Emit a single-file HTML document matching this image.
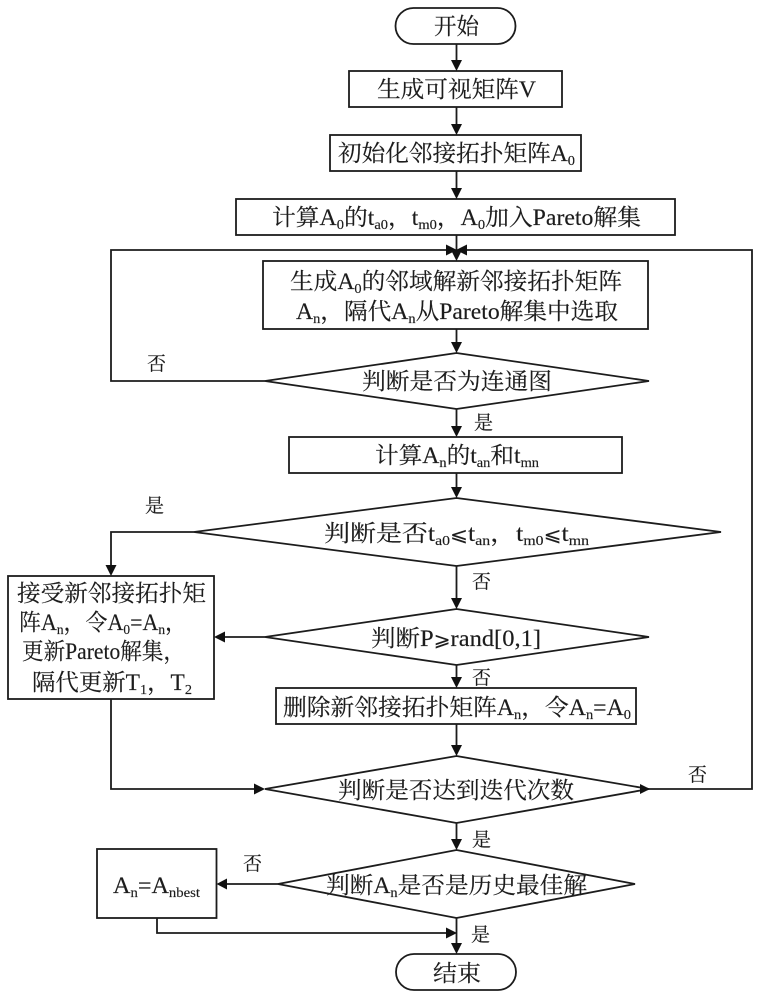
<!DOCTYPE html>
<html><head><meta charset="utf-8"><style>
html,body{margin:0;padding:0;background:#fff}
svg{display:block}
text{font-family:"Liberation Serif","Noto Serif CJK SC",serif;font-size:23px;fill:#1c1c1c;stroke:#1c1c1c;stroke-width:.15}
text.l{font-size:19px}
tspan.s{font-size:14px}
tspan.m{font-family:"DejaVu Sans",serif;font-size:19px}
.o{fill:none;stroke:#1c1c1c;stroke-width:1.8}
.a{fill:#111;stroke:none}
</style></head><body>
<svg width="760" height="1000" viewBox="0 0 760 1000" xmlns="http://www.w3.org/2000/svg">
<rect width="760" height="1000" fill="#fff"/>
<g class="o">
<rect x="395.500" y="8" width="120" height="36" rx="18"/>
<rect x="349" y="71" width="213" height="36"/>
<rect x="330" y="135" width="251" height="36"/>
<rect x="236" y="199" width="439" height="36"/>
<rect x="263" y="261" width="385" height="68"/>
<polygon points="456.500,353 649,381 456.500,409 265,381"/>
<rect x="289" y="437" width="333" height="36"/>
<polygon points="456.500,498 721,532 456.500,566 194,532"/>
<rect x="8" y="576" width="206" height="123"/>
<polygon points="456.500,609 649,637 456.500,665 265,637"/>
<rect x="276" y="688" width="360" height="36"/>
<polygon points="456.500,756 649,789 456.500,823 265,789"/>
<polygon points="456.500,850 635,884 456.500,918 278,884"/>
<rect x="97" y="849" width="119.500" height="69"/>
<rect x="396" y="954" width="120" height="36" rx="18"/>
<path d="M456.500 44V60M456.500 107V124M456.500 171V188M456.500 235V250M456.500 329V342M456.500 409V426M456.500 473V487M456.500 566V598M456.500 665V677M456.500 724V745M456.500 823V839M456.500 918V943"/>
<path d="M265 381H111V250H446M649 789H752V250H467"/>
<path d="M194 532H111V565"/>
<path d="M265 637H225"/>
<path d="M111 699V789H255"/>
<path d="M278 884H227"/>
<path d="M157 918V933H446"/>
</g>
<g class="a">
<polygon points="451,60 462,60 456.500,71"/>
<polygon points="451,124 462,124 456.500,135"/>
<polygon points="451,188 462,188 456.500,199"/>
<polygon points="451,250 462,250 456.500,261"/>
<polygon points="451,342 462,342 456.500,353"/>
<polygon points="451,426 462,426 456.500,437"/>
<polygon points="451,487 462,487 456.500,498"/>
<polygon points="451,598 462,598 456.500,609"/>
<polygon points="451,677 462,677 456.500,688"/>
<polygon points="451,745 462,745 456.500,756"/>
<polygon points="451,839 462,839 456.500,850"/>
<polygon points="451,943 462,943 456.500,954"/>
<polygon points="105.500,565 116.500,565 111,576"/>
<polygon points="446,244.500 446,255.500 457,250"/>
<polygon points="467,244.500 467,255.500 456,250"/>
<polygon points="225,631.500 225,642.500 214,637"/>
<polygon points="254,783.500 254,794.500 265,789"/>
<polygon points="227,878.500 227,889.500 216.500,884"/>
<polygon points="446,927.500 446,938.500 457,933"/>
<polygon points="640,784 640,794 650,789"/>
</g>
<text x="434" y="34" textLength="45" lengthAdjust="spacingAndGlyphs">开始</text>
<text x="377" y="97" textLength="159" lengthAdjust="spacingAndGlyphs">生成可视矩阵V</text>
<text x="338" y="161" textLength="237" lengthAdjust="spacingAndGlyphs">初始化邻接拓扑矩阵A<tspan class="s" dy="4">0</tspan></text>
<text x="272" y="225" textLength="369" lengthAdjust="spacingAndGlyphs">计算A<tspan class="s" dy="4">0</tspan><tspan dy="-4">的t</tspan><tspan class="s" dy="4">a0</tspan><tspan dy="-4">，t</tspan><tspan class="s" dy="4">m0</tspan><tspan dy="-4">，A</tspan><tspan class="s" dy="4">0</tspan><tspan dy="-4">加入Pareto解集</tspan></text>
<text x="290" y="289" textLength="332" lengthAdjust="spacingAndGlyphs">生成A<tspan class="s" dy="4">0</tspan><tspan dy="-4">的邻域解新邻接拓扑矩阵</tspan></text>
<text x="296" y="319" textLength="322" lengthAdjust="spacingAndGlyphs">A<tspan class="s" dy="4">n</tspan><tspan dy="-4">，隔代A</tspan><tspan class="s" dy="4">n</tspan><tspan dy="-4">从Pareto解集中选取</tspan></text>
<text x="362" y="389" textLength="190" lengthAdjust="spacingAndGlyphs">判断是否为连通图</text>
<text x="375" y="463" textLength="164" lengthAdjust="spacingAndGlyphs">计算A<tspan class="s" dy="4">n</tspan><tspan dy="-4">的t</tspan><tspan class="s" dy="4">an</tspan><tspan dy="-4">和t</tspan><tspan class="s" dy="4">mn</tspan></text>
<text x="324" y="541" textLength="265" lengthAdjust="spacingAndGlyphs">判断是否t<tspan class="s" dy="4">a0</tspan><tspan class="m" dy="-4">⩽</tspan><tspan>t</tspan><tspan class="s" dy="4">an</tspan><tspan dy="-4">，t</tspan><tspan class="s" dy="4">m0</tspan><tspan class="m" dy="-4">⩽</tspan><tspan>t</tspan><tspan class="s" dy="4">mn</tspan></text>
<text x="17" y="601" textLength="189" lengthAdjust="spacingAndGlyphs">接受新邻接拓扑矩</text>
<text x="19" y="630" textLength="168" lengthAdjust="spacingAndGlyphs">阵A<tspan class="s" dy="4">n</tspan><tspan dy="-4">，令A</tspan><tspan class="s" dy="4">0</tspan><tspan dy="-4">=A</tspan><tspan class="s" dy="4">n</tspan><tspan dy="-4">，</tspan></text>
<text x="22" y="659" textLength="163" lengthAdjust="spacingAndGlyphs">更新Pareto解集，</text>
<text x="32" y="690" textLength="160" lengthAdjust="spacingAndGlyphs">隔代更新T<tspan class="s" dy="4">1</tspan><tspan dy="-4">，T</tspan><tspan class="s" dy="4">2</tspan></text>
<text x="371" y="646" textLength="170" lengthAdjust="spacingAndGlyphs">判断P<tspan class="m">⩾</tspan><tspan>rand[0,1]</tspan></text>
<text x="283" y="715" textLength="348" lengthAdjust="spacingAndGlyphs">删除新邻接拓扑矩阵A<tspan class="s" dy="4">n</tspan><tspan dy="-4">，令A</tspan><tspan class="s" dy="4">n</tspan><tspan dy="-4">=A</tspan><tspan class="s" dy="4">0</tspan></text>
<text x="338" y="798" textLength="236" lengthAdjust="spacingAndGlyphs">判断是否达到迭代次数</text>
<text x="326" y="893" textLength="261" lengthAdjust="spacingAndGlyphs">判断A<tspan class="s" dy="4">n</tspan><tspan dy="-4">是否是历史最佳解</tspan></text>
<text x="113" y="893" textLength="87" lengthAdjust="spacingAndGlyphs">A<tspan class="s" dy="4">n</tspan><tspan dy="-4">=A</tspan><tspan class="s" dy="4">nbest</tspan></text>
<text x="433" y="981" textLength="48" lengthAdjust="spacingAndGlyphs">结束</text>
<text class="l" x="147" y="370">否</text>
<text class="l" x="474" y="429">是</text>
<text class="l" x="145" y="512">是</text>
<text class="l" x="472" y="588">否</text>
<text class="l" x="472" y="684">否</text>
<text class="l" x="688" y="781">否</text>
<text class="l" x="472" y="846">是</text>
<text class="l" x="243" y="870">否</text>
<text class="l" x="471" y="941">是</text>
</svg>
</body></html>
